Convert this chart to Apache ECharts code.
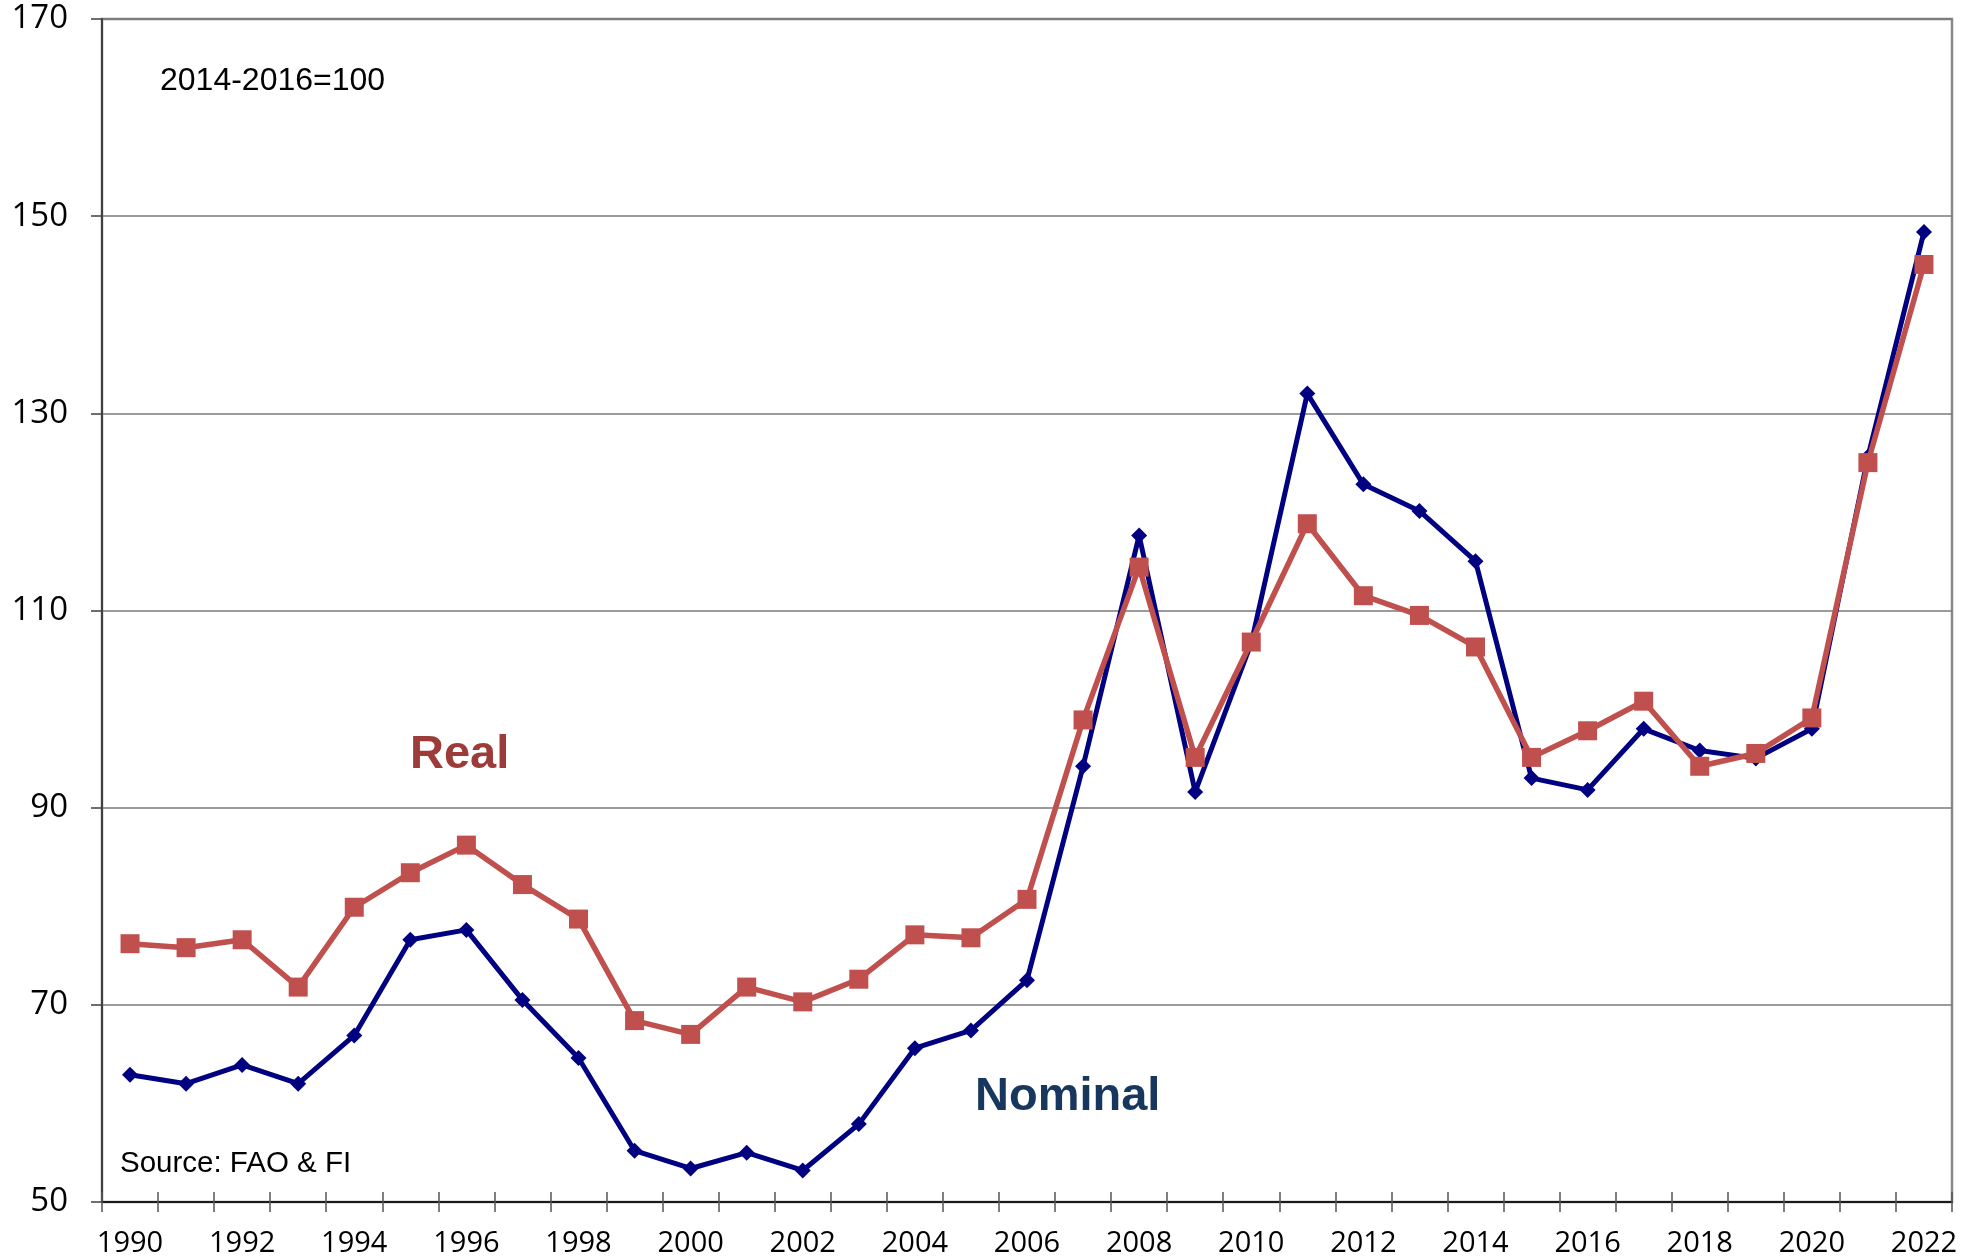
<!DOCTYPE html>
<html>
<head>
<meta charset="utf-8">
<script src="https://cdn.jsdelivr.net/npm/echarts@6/dist/echarts.min.js"></script>
<style>
html,body{margin:0;padding:0;background:#fff;}
#chart{width:1980px;height:1260px;}
</style>
</head>
<body>
<div id="chart"></div>
<script>
const years = ['1990','1991','1992','1993','1994','1995','1996','1997','1998','1999','2000','2001','2002','2003','2004','2005','2006','2007','2008','2009','2010','2011','2012','2013','2014','2015','2016','2017','2018','2019','2020','2021','2022'];
const nominal = [62.9,62.0,63.9,62.0,66.9,76.6,77.6,70.5,64.6,55.2,53.4,55.0,53.2,57.9,65.6,67.4,72.5,94.2,117.6,91.6,106.7,132.0,122.8,120.1,115.0,93.0,91.8,98.0,95.8,95.0,98.0,125.6,148.4];
const real = [76.2,75.8,76.6,71.8,79.9,83.4,86.2,82.2,78.7,68.4,67.0,71.8,70.3,72.6,77.1,76.8,80.7,98.9,114.4,95.1,106.8,118.8,111.5,109.5,106.3,95.1,97.8,100.8,94.2,95.5,99.1,125.0,145.1];
const yMin = 50, yMax = 170, yStep = 20;
const baseNote = '2014-2016=100';
const sourceNote = 'Source: FAO & FI';
const realName = 'Real';
const nominalName = 'Nominal';

const chart = echarts.init(document.getElementById('chart'), null, {renderer:'canvas'});
chart.setOption({
  animation: false,
  backgroundColor: '#ffffff',
  grid: {left: 102, right: 28, top: 19, bottom: 58, show: true, borderColor: '#888888', borderWidth: 2.5, backgroundColor: 'transparent'},
  xAxis: [{
    type: 'category', data: years, boundaryGap: true,
    axisLine: {show: true, lineStyle: {color: '#1a1a1a', width: 2}},
    axisTick: {show: true, interval: 0, length: 10, lineStyle: {color: '#555555', width: 1.5}},
    axisLabel: {interval: 1, fontSize: 29, fontFamily: 'Open Sans', color: '#000', margin: 27},
    splitLine: {show: false}
  },{
    type: 'category', data: years, boundaryGap: true, position: 'bottom',
    axisLine: {show: false},
    axisTick: {show: true, inside: true, interval: 0, length: 10, lineStyle: {color: '#555555', width: 1.5}},
    axisLabel: {show: false},
    splitLine: {show: false}
  }],
  yAxis: {
    type: 'value', min: yMin, max: yMax, interval: yStep,
    axisLine: {show: true, lineStyle: {color: '#404040', width: 2}},
    axisTick: {show: true, length: 11, lineStyle: {color: '#404040', width: 1.5}},
    axisLabel: {fontSize: 33, fontFamily: 'Open Sans', color: '#000', margin: 34},
    splitLine: {show: true, lineStyle: {color: '#7a7a7a', width: 1.5}}
  },
  series: [{
    name: nominalName, type: 'line', data: nominal, xAxisIndex: 0,
    symbol: 'diamond', symbolSize: 16, z: 2,
    itemStyle: {color: '#000080'},
    lineStyle: {color: '#000080', width: 5}
  },{
    name: realName, type: 'line', data: real, xAxisIndex: 0,
    symbol: 'rect', symbolSize: 19, z: 3,
    itemStyle: {color: '#C0504D'},
    lineStyle: {color: '#C0504D', width: 5.5}
  }],
  graphic: [
    {type: 'text', x: 160, y: 81, style: {text: baseNote, font: '32px "Liberation Sans", Arial, sans-serif', fill: '#000', verticalAlign: 'middle'}},
    {type: 'text', x: 120, y: 1164, style: {text: sourceNote, font: '29.5px "Liberation Sans", Arial, sans-serif', fill: '#000', verticalAlign: 'middle'}},
    {type: 'text', x: 410, y: 755, style: {text: realName, font: 'bold 47px "Liberation Sans", Arial, sans-serif', fill: '#9C3B37', verticalAlign: 'middle'}},
    {type: 'text', x: 975, y: 1097, style: {text: nominalName, font: 'bold 47px "Liberation Sans", Arial, sans-serif', fill: '#17375E', verticalAlign: 'middle'}}
  ]
});
</script>
</body>
</html>
